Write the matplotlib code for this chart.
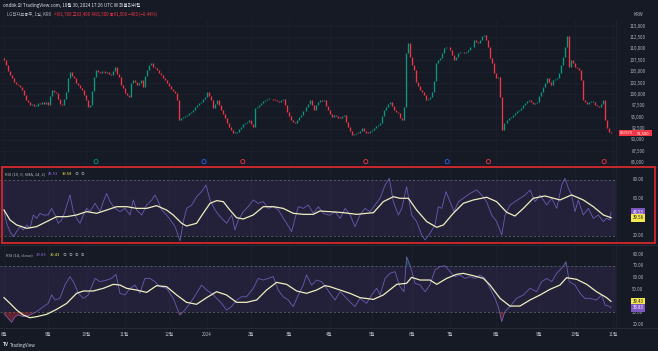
import matplotlib
matplotlib.use('Agg')
import matplotlib.pyplot as plt
import matplotlib.transforms as mtransforms
from matplotlib.patches import Rectangle
import numpy as np

plt.rcParams['font.family'] = ['Noto Sans CJK KR', 'DejaVu Sans']

# ---------------- data ----------------
# daily closes (thousand KRW), Aug 2023 .. Oct 30 2024
close_k = [
    # Aug 2023
    107.5, 106.5, 105.2, 104.3, 103.6, 102.8, 102.3, 102.0, 101.7, 101.0,
    99.8, 98.8, 98.3, 97.7, 97.9, 97.4, 97.5, 98.1, 97.8, 98.3, 98.0, 98.4,
    # Sep 2023
    97.7, 99.6, 101.0, 100.5, 100.2, 98.9, 98.0, 97.7, 99.1, 100.6,
    103.5, 105.0, 104.0, 103.5, 102.6, 102.1, 101.4, 101.0, 99.8,
    # Oct 2023
    98.8, 97.2, 97.7, 100.8, 103.9, 105.4, 104.9, 104.6, 105.2, 104.7,
    105.0, 104.5, 104.3, 105.2, 106.1, 104.5, 103.9, 102.1, 101.3,
    # Nov 2023
    100.2, 99.8, 99.5, 102.5, 103.2, 102.8, 102.1, 102.6, 103.2, 101.7,
    104.0, 105.4, 106.5, 106.8, 106.1, 105.8, 105.4, 104.7, 104.3, 103.6,
    103.2, 102.4,
    # Dec 2023
    101.9, 101.2, 100.8, 100.2, 98.8, 94.4, 94.8, 95.1, 95.3, 95.5,
    95.9, 96.2, 96.6, 97.2, 97.7, 98.1, 98.4, 99.0, 99.5,
    # Jan 2024
    100.6, 99.6, 98.8, 97.0, 98.0, 98.8, 97.6, 96.6, 95.8, 94.8,
    93.8, 92.9, 92.2, 91.5, 91.6, 91.8, 92.4, 92.9, 93.4, 93.7,
    94.0, 94.4,
    # Feb 2024
    93.6, 92.9, 97.0, 97.3, 97.7, 98.2, 98.6, 98.8, 99.0, 99.1,
    98.9, 98.8, 98.7, 98.5, 98.4, 98.8, 99.1, 97.6, 96.2,
    # Mar 2024
    95.3, 94.4, 94.0, 93.7, 94.3, 95.0, 95.5, 96.4, 97.3, 98.0,
    98.8, 97.6, 96.6, 97.7, 98.3, 98.8, 98.6, 98.8, 97.5, 96.6,
    # Apr 2024
    95.6, 95.1, 95.5, 95.2, 94.9, 94.8, 95.2, 95.5, 94.0, 92.9,
    92.0, 91.1, 91.3, 91.6, 91.5, 92.0, 92.6, 92.0, 91.6, 91.5, 91.9,
    # May 2024
    92.2, 92.6, 93.0, 93.3, 93.7, 95.2, 96.6, 97.3, 98.0, 98.4,
    97.5, 96.6, 96.2, 95.9, 94.8, 94.4, 97.3, 109.0, 111.2, 108.3,
    # Jun 2024
    106.5, 105.4, 102.8, 101.8, 101.0, 100.5, 99.9, 98.8, 99.0, 99.5,
    100.6, 103.0, 106.8, 107.5, 108.0, 109.0, 110.1, 110.3, 110.5,
    # Jul 2024
    109.7, 108.6, 107.5, 108.3, 109.0, 109.4, 109.2, 109.0, 109.4, 109.7,
    110.3, 110.5, 111.9, 111.5, 111.2, 112.0, 112.7, 113.0, 112.0, 110.5,
    108.0, 106.8, 104.6,
    # Aug 2024
    103.5, 103.9, 99.5, 92.2, 93.7, 94.3, 94.8, 95.1, 95.5, 95.9,
    96.3, 96.6, 97.1, 97.7, 98.2, 98.5, 98.8, 98.4, 98.0, 98.2, 98.4,
    # Sep 2024
    99.6, 100.6, 101.7, 102.6, 103.5, 102.8, 102.1, 103.2, 103.3, 103.5,
    104.6, 106.5, 108.3, 110.5, 112.7, 106.1, 107.5, 106.8,
    # Oct 2024
    106.1, 105.8, 105.4, 103.2, 98.8, 98.3, 98.0, 98.4, 98.4, 98.4,
    97.7, 97.5, 97.3, 98.0, 98.8, 94.4, 92.6, 91.8, 91.5,
]
first_open_k = 108.0

month_labels = ['8월', '9월', '10월', '11월', '12월', '2024', '2월', '3월',
                '4월', '5월', '6월', '7월', '8월', '9월', '10월', '11월']
month_days = [22, 19, 19, 22, 19, 22, 19, 20, 21, 20, 19, 23, 21, 18, 19]

price_ticks = [85000, 87500, 90000, 92500, 95000, 97500, 100000, 102500,
               105000, 107500, 110000, 112500, 115000]

# event markers (bar index, colour)
event_idx = [45.8, 99.5, 118.8, 180.0, 220.5, 241.0, 298.6]
event_col = ['#089981', '#2962ff', '#f23645', '#f23645', '#2962ff', '#f23645', '#f23645']

# RSI (10) pane
rsi10_x = [0, 1.3, 3, 4.6, 6.3, 8, 9.6, 11.3, 12.9, 14.6,
           16.2, 17.9, 19.6, 22, 23.7, 25.4, 27, 28.7, 30.3, 32.8,
           34.5, 36.1, 37.8, 39.5, 41.1, 42.8, 45.3, 47.8, 49.4, 51.1,
           52.7, 55.2, 57.7, 60.2, 62.7, 64.3, 66, 68.5, 71, 73.5,
           75.1, 76.8, 78.4, 80.9, 83.4, 85.1, 87.6, 89.2, 90.9, 93.4,
           95.8, 98.3, 100.5, 102.5, 105, 107.5, 110.8, 113.3, 114.9, 116.6,
           119.1, 121.5, 124, 126.5, 129, 131.5, 134, 136.5, 139, 140.6,
           143.1, 144.8, 146.4, 148.9, 151.4, 153.9, 156.4, 158.9, 161.3,
           162.2, 164.7, 167.2, 169.7, 172.2, 174.6, 177.1, 179.6, 182.1, 184.6,
           187.1, 189.6, 191.7, 193.7, 196.2, 197.9, 200.3, 202.8, 205.3, 207.8,
           209.5, 212, 214.4, 216.1, 217.8, 219.9, 221.9, 223.9, 226.1, 228.5,
           231.9, 235.2, 237.7, 240.1, 242.6, 245.1, 247.6, 249.3, 251.8, 254.2,
           256.7, 259.2, 261.7, 264.2, 266.7, 270, 272.5, 275, 277.5, 279.1,
           280.8, 282.4, 284.1, 285.7, 288.2, 290.7, 293.2, 295.7, 298.2, 299.8,
           301.5, 302]
rsi10_v = [47.9, 33.6, 24.6, 19.3, 24.6, 30.0, 26.4, 31.8, 28.2, 42.5,
           38.9, 44.3, 42.5, 42.5, 49.6, 42.5, 33.6, 37.1, 46.1, 63.9,
           46.1, 38.9, 33.6, 42.5, 49.6, 46.1, 55.0, 46.1, 56.8, 65.7,
           56.8, 49.6, 46.1, 49.6, 42.5, 58.6, 47.9, 42.5, 53.2, 58.6,
           63.9, 56.8, 47.9, 42.5, 35.4, 30.0, 14.6, 35.4, 49.6, 53.2,
           62.1, 67.5, 74.6, 58.6, 47.9, 40.7, 33.6, 42.5, 26.4, 37.1,
           46.1, 51.4, 58.6, 55.0, 56.8, 49.6, 51.4, 47.9, 38.9, 33.6,
           24.6, 38.9, 51.4, 49.6, 53.2, 44.3, 51.4, 44.3, 42.5,
           42.5, 46.1, 38.9, 49.6, 42.5, 30.0, 42.5, 49.6, 46.1, 53.2,
           60.4, 74.6, 81.8, 56.8, 42.5, 49.6, 72.9, 42.5, 35.4, 21.1,
           15.7, 22.9, 31.8, 51.4, 49.6, 67.5, 56.8, 46.1, 56.8, 60.4,
           65.7, 69.3, 63.9, 56.8, 42.5, 35.4, 21.1, 42.5, 53.2, 56.8,
           60.4, 63.9, 69.3, 56.8, 63.9, 53.2, 60.4, 49.6, 74.6, 81.8,
           71.1, 63.9, 46.1, 58.6, 42.5, 49.6, 38.9, 42.5, 35.4, 38.9,
           37.1, 45.53]
rsi10_ma_x = [0, 3, 6.3, 11.3, 16.2, 21.2, 26.2, 31.2, 36.1, 41.1,
              46.1, 51.1, 56, 61, 66, 71, 75.9, 80.9, 84.2, 88.4,
              90.8, 95.8, 99.1, 102.5, 105.8, 109.1, 112.4, 115.7, 119, 124,
              129, 134, 138.9, 143.9, 148.9, 153.9, 157.2, 161.3,
              162.2, 168.8, 175.5, 183.8, 188.7, 193.7, 197, 201.2, 205.3, 210.3,
              215.3, 218.6, 223.5, 228.5, 233.5, 240.1, 245.1, 250.1, 254.2, 258.4,
              263.3, 269.1, 276.6, 282.4, 288.2, 293.2, 298.2, 302]
rsi10_ma_v = [47.8, 37.1, 31.8, 28.2, 30.0, 35.4, 40.7, 40.7, 42.5, 46.1,
              44.3, 47.8, 51.4, 51.4, 49.6, 49.6, 52.5, 47.8, 42.5, 33.6,
              30.7, 33.6, 44.3, 55.0, 57.9, 56.8, 47.8, 39.6, 38.2, 42.5,
              51.4, 51.4, 49.6, 44.3, 43.2, 43.2, 46.8, 46.1,
              46.1, 45.0, 43.2, 45.0, 56.8, 62.1, 60.4, 60.4, 47.8, 35.4,
              29.3, 31.8, 44.3, 55.0, 58.6, 61.5, 56.8, 45.4, 41.4, 49.6,
              60.4, 62.9, 58.6, 64.0, 58.6, 51.4, 42.5, 39.58]

# RSI (14) pane
rsi14_x = [0, 1.3, 3.8, 5.5, 7.1, 9.6, 12.9, 16.2, 19.6, 22.0,
           23.7, 25.4, 27.8, 30.3, 32.8, 34.5, 37.0, 39.5, 41.9, 45.3,
           47.7, 51.1, 53.5, 55.7, 57.7, 60.2, 62.7, 65.1, 67.6, 70.1,
           72.6, 75.1, 77.6, 80.9, 84.2, 87.5, 90.0, 92.5, 95.8, 98.3,
           100.8, 103.3, 105.8, 108.3, 110.7, 113.2, 115.7, 118.2, 120.7, 124.0,
           126.5, 129.0, 131.5, 134.0, 136.4, 138.9, 141.4, 143.9, 146.4, 148.9,
           150.5, 153.0, 155.5, 158.0, 160.5,
           162.2, 164.7, 167.2, 169.7, 172.1, 174.6, 177.1, 180.4, 182.9, 185.4,
           187.1, 189.6, 192.0, 194.5, 197.0, 199.0, 200.3, 202.0, 204.5, 207.0,
           209.5, 211.9, 214.4, 216.9, 219.4, 221.9, 224.4, 226.9, 229.3, 231.8,
           234.3, 236.8, 239.3, 241.8, 244.3, 245.9, 247.6, 249.2, 251.7, 255.0,
           258.4, 261.7, 265.0, 267.5, 270.0, 272.5, 274.9, 277.4, 279.6, 281.2,
           284.1, 286.6, 289.0, 291.5, 294.8, 297.3, 299.0, 301.5, 302]
rsi14_v = [29.1, 26.3, 21.4, 26.3, 27.7, 26.3, 27.7, 30.6, 34.9, 37.7,
           44.9, 40.6, 42.0, 53.4, 60.6, 56.3, 46.3, 42.0, 44.9, 59.1,
           56.3, 57.7, 59.1, 62.6, 46.3, 44.9, 50.6, 53.4, 46.3, 59.1,
           59.1, 56.3, 52.0, 50.6, 42.0, 27.7, 32.0, 37.7, 46.3, 53.4,
           49.1, 46.3, 42.0, 37.7, 32.0, 34.9, 40.6, 43.4, 43.4, 50.6,
           59.1, 57.7, 59.1, 60.6, 49.1, 43.4, 40.6, 34.9, 44.9, 53.4,
           62.0, 53.4, 57.7, 56.3, 50.6,
           46.3, 40.6, 47.7, 43.4, 39.1, 34.9, 42.0, 37.7, 44.9, 50.6,
           44.9, 59.1, 63.4, 64.9, 52.0, 47.7, 77.7, 70.6, 54.9, 53.4,
           47.7, 53.4, 66.3, 69.1, 70.0, 64.9, 60.6, 62.0, 59.1, 60.6,
           59.1, 62.0, 59.1, 50.6, 42.0, 34.9, 22.0, 30.6, 34.9, 42.0,
           44.9, 50.6, 47.7, 56.3, 59.1, 56.3, 63.4, 67.7, 73.4, 56.3,
           53.4, 46.3, 42.0, 42.0, 40.6, 44.9, 36.3, 34.9, 33.83]
rsi14_ma_x = [0, 3, 6.3, 9.6, 12.9, 16.2, 21.2, 26.2, 31.2, 36.1,
              39.5, 44.4, 49.4, 54.4, 57.7, 61, 66, 71, 75.9, 80.9,
              85.9, 90.8, 95.8, 100.8, 105.8, 110.7, 115.7, 120.7, 125.7, 130.6,
              135.6, 140.6, 145.6, 150.5, 155.5, 159.7,
              162.2, 167.2, 172.1, 177.1, 183.8, 188.7, 195.4, 200.3, 202.8, 207,
              211.9, 215.3, 220.2, 225.2, 228.5, 233.5, 238.5, 241.8, 246.8, 251.7,
              256.7, 261.7, 266.7, 271.6, 276.6, 279.9, 284.9, 289.9, 294.8, 299.8, 302]
rsi14_ma_v = [42.6, 37.7, 32.0, 27.7, 25.4, 26.3, 28.3, 32.6, 37.7, 46.3,
              48.3, 48.3, 50.6, 54.0, 53.4, 50.6, 49.1, 47.1, 52.9, 52.0,
              44.9, 38.6, 36.9, 42.6, 47.7, 44.9, 38.6, 38.6, 40.6, 49.1,
              55.7, 54.0, 48.3, 46.3, 49.1, 52.9,
              52.0, 49.1, 46.3, 42.6, 41.1, 44.9, 54.0, 54.9, 60.0, 57.7,
              57.7, 54.0, 59.1, 62.6, 63.4, 61.4, 59.1, 53.4, 42.0, 35.4,
              35.4, 40.6, 44.9, 49.7, 53.4, 59.7, 58.3, 54.0, 47.7, 42.6, 39.43]

# ---------------- figure ----------------
W, H = 658, 351
fig = plt.figure(figsize=(W / 100, H / 100), dpi=100)
BG = '#161a25'
GRID = '#1e2230'
TXT = '#b2b5be'
PURPLE = '#7e57c2'
RSI_LINE = '#7e6ad0'
MA_LINE = '#efeec0'
UP, DOWN = '#089981', '#f23645'
fig.patch.set_facecolor(BG)


def fx(px):
    return px / W


def fy(py):
    return 1 - py / H


PLOT_R = 616
XL = (-4 / 2.01, (PLOT_R - 4) / 2.01)


def add_ax(top, bottom, ylim):
    ax = fig.add_axes([0, fy(bottom), fx(PLOT_R), (bottom - top) / H])
    ax.set_facecolor(BG)
    for s in ax.spines.values():
        s.set_visible(False)
    ax.set_xticks([])
    ax.set_yticks([])
    ax.set_xlim(*XL)
    ax.set_ylim(*ylim)
    return ax


month_idx = np.concatenate([[0], np.cumsum(month_days)])

ax_p = add_ax(20, 166, (84298, 116316))
ax_r1 = add_ax(168, 242, (13.55, 92.86))
ax_r2 = add_ax(246, 327, (17.45, 86.86))

# grids
for ax in (ax_p, ax_r1, ax_r2):
    for m in month_idx:
        ax.axvline(m, color=GRID, lw=0.5, zorder=0)
for t in price_ticks:
    ax_p.axhline(t, color=GRID, lw=0.5, zorder=0)

# ---- candles ----
closes = np.array(close_k) * 1000
opens = np.concatenate([[first_open_k * 1000], closes[:-1]])
idx = np.arange(len(closes))
body_lo = np.minimum(opens, closes)
body_hi = np.maximum(np.maximum(opens, closes), body_lo + 200)
up = closes >= opens
ax_p.vlines(idx[up], body_lo[up], body_hi[up], colors=UP, lw=0.95, zorder=3)
ax_p.vlines(idx[~up], body_lo[~up], body_hi[~up], colors=DOWN, lw=0.95, zorder=3)

# events
trE = mtransforms.blended_transform_factory(ax_p.transData, ax_p.transAxes)
ax_p.scatter(event_idx, [0.03] * len(event_idx), s=9, facecolor=BG,
             edgecolor=event_col, linewidths=0.6, transform=trE, zorder=5, clip_on=False)

# ---- RSI pane 1 ----
ax_r1.axhspan(20, 80, color=PURPLE, alpha=0.13, lw=0, zorder=0)
for lvl in (80, 20):
    ax_r1.axhline(lvl, color='#6a6d78', lw=0.5, ls=(0, (3, 3)), zorder=1)
ax_r1.plot(rsi10_x, rsi10_v, color=RSI_LINE, lw=0.6, alpha=0.8, zorder=3)
ax_r1.plot(rsi10_ma_x, rsi10_ma_v, color=MA_LINE, lw=0.9, zorder=4)

# ---- RSI pane 2 ----
ax_r2.axhspan(30, 70, color=PURPLE, alpha=0.13, lw=0, zorder=0)
for lvl in (70, 30):
    ax_r2.axhline(lvl, color='#6a6d78', lw=0.5, ls=(0, (3, 3)), zorder=1)
xr = np.array(rsi14_x)
vr = np.array(rsi14_v)
ax_r2.fill_between(xr, vr, 30, where=vr < 30, interpolate=True, color='#f23645', alpha=0.35, lw=0)
ax_r2.fill_between(xr, vr, 70, where=vr > 70, interpolate=True, color='#089981', alpha=0.35, lw=0)
ax_r2.plot(rsi14_x, rsi14_v, color=RSI_LINE, lw=0.6, alpha=0.8, zorder=3)
ax_r2.plot(rsi14_ma_x, rsi14_ma_v, color=MA_LINE, lw=0.9, zorder=4)

# separators
for yy in (166.5, 244.5, 327.5):
    fig.add_artist(plt.Line2D([0, 1], [fy(yy), fy(yy)], color='#2a2e39', lw=0.6))
fig.add_artist(plt.Line2D([fx(PLOT_R), fx(PLOT_R)], [fy(327.5), fy(20)], color='#22263a', lw=0.5))

# ---- right axis labels ----
LX = fx(638)
FS = 3.2


def right_labels(ax, vals, fmt):
    tr = mtransforms.blended_transform_factory(fig.transFigure, ax.transData)
    for v in vals:
        ax.text(LX, v, fmt(v), transform=tr, ha='center', va='center',
                fontsize=FS, color=TXT, clip_on=False)


right_labels(ax_p, price_ticks, lambda v: f'{v:,}')
right_labels(ax_r1, [80, 60, 20], lambda v: f'{v:.2f}')
right_labels(ax_r2, [80, 70, 60, 50, 30, 20], lambda v: f'{v:.2f}')
fig.text(fx(638), fy(15), 'KRW', fontsize=FS, color=TXT, ha='center', va='center')


def tag(ax, val, txt, fc, tc):
    tr = mtransforms.blended_transform_factory(fig.transFigure, ax.transData)
    ax.text(LX, val, txt, transform=tr, ha='center', va='center', fontsize=FS,
            color=tc, clip_on=False, zorder=10,
            bbox=dict(boxstyle='square,pad=0.3', fc=fc, ec='none'))


tag(ax_r1, 45.53, '45.53', '#7e57c2', 'white')
tag(ax_r1, 39.58, '39.58', '#f5e94f', '#131722')
tag(ax_r2, 39.43, '39.43', '#f5e94f', '#131722')
tag(ax_r2, 33.83, '33.83', '#7e57c2', 'white')

# last price tag
yv = closes[-1]
fig.add_artist(Rectangle((fx(619), fy(136)), (652 - 619) / W, 6 / H,
                         transform=fig.transFigure, fc='#f23645', ec='none', zorder=10))
fig.text(fx(626), fy(133), '066570', fontsize=2.8, color='white', ha='center', va='center', zorder=11)
fig.text(fx(643), fy(133), f'{int(yv):,}', fontsize=3.0, color='white', ha='center', va='center', zorder=11)

# month labels
trm = mtransforms.blended_transform_factory(ax_r2.transData, fig.transFigure)
for m, lab in zip(month_idx, month_labels):
    ax_r2.text(m, fy(334), lab, transform=trm, ha='center', va='center',
               fontsize=FS, color=TXT, clip_on=False)

# ---- header / legends ----
renderer = fig.canvas.get_renderer()


def seq_text(x, y, pieces, size, gap=3):
    for s, col in pieces:
        t = fig.text(fx(x), fy(y), s, color=col, fontsize=size, ha='left', va='center')
        bb = t.get_window_extent(renderer)
        x += bb.width + gap


seq_text(3, 5, [('ondbk 의 TradingView.com, 10월 30, 2024 17:26 UTC 에 퍼블리쉬됨', '#e0e3eb')], 3.3)
seq_text(7, 14, [('LG전자보통주, 1일, KRX', TXT),
                 ('시91,700 고92,400 저91,500 종91,500 −400 (−0.44%)', '#f23645')], 3.1)
seq_text(5, 174, [('RSI (10, 0, SMA, 14, 2)', TXT), ('45.53', '#8c6fe0'),
                  ('39.58', '#f5e94f'), ('∅  ∅', TXT)], 3.0)
seq_text(6, 255, [('RSI (14, close)', TXT), ('33.83', '#8c6fe0'),
                  ('39.43', '#f5e94f'), ('∅  ∅  ∅  ∅', TXT)], 3.0)

fig.text(fx(3), fy(345), 'TV', fontsize=3.4, color='#e0e3eb', fontweight='bold', ha='left', va='center')
fig.text(fx(10), fy(345), 'TradingView', fontsize=3.2, color='#e0e3eb', ha='left', va='center')

# highlight box around RSI pane 1
fig.add_artist(Rectangle((fx(2), fy(243)), 653 / W, 76 / H, transform=fig.transFigure,
                         fill=False, ec='#e5282c', lw=1.2, zorder=20))

fig.savefig('out.png', dpi=100, facecolor=BG)
